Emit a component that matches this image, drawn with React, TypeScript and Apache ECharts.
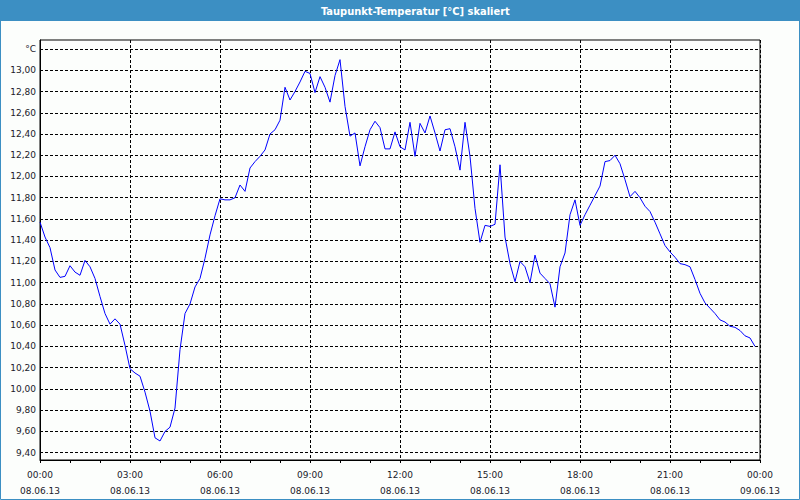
import React, { useEffect, useRef } from "react";
import * as echarts from "echarts";

const TITLE = "Taupunkt-Temperatur [°C] skaliert";
const UNIT_LABEL = "°C";
const DAY_LABELS = ["08.06.13", "09.06.13"];
const STEP_MINUTES = 10;

// Dew point readings every 10 minutes from 08.06.13 00:00
const dewPoint = [
  11.57, 11.43, 11.33, 11.12, 11.05, 11.06, 11.16, 11.10, 11.07, 11.21,
  11.15, 11.04, 10.87, 10.71, 10.61, 10.66, 10.61, 10.41, 10.19, 10.15,
  10.12, 9.97, 9.79, 9.54, 9.51, 9.60, 9.64, 9.82, 10.37, 10.71,
  10.80, 10.96, 11.04, 11.23, 11.45, 11.63, 11.79, 11.78, 11.78, 11.80,
  11.92, 11.86, 12.08, 12.14, 12.19, 12.25, 12.40, 12.44, 12.53, 12.84,
  12.72, 12.80, 12.89, 12.99, 12.97, 12.79, 12.94, 12.84, 12.70, 12.95,
  13.10, 12.66, 12.38, 12.41, 12.10, 12.28, 12.44, 12.52, 12.46, 12.26,
  12.26, 12.42, 12.28, 12.25, 12.51, 12.19, 12.50, 12.41, 12.57, 12.41,
  12.24, 12.44, 12.45, 12.28, 12.06, 12.51, 12.19, 11.70, 11.38, 11.54,
  11.53, 11.55, 12.11, 11.43, 11.18, 11.01, 11.20, 11.15, 11.00, 11.26,
  11.09, 11.04, 10.99, 10.77, 11.15, 11.28, 11.64, 11.78, 11.54, 11.64,
  11.73, 11.82, 11.91, 12.14, 12.15, 12.20, 12.12, 11.97, 11.81, 11.86,
  11.80, 11.72, 11.67, 11.57, 11.46, 11.35, 11.29, 11.24, 11.18, 11.17,
  11.15, 11.03, 10.90, 10.81, 10.76, 10.71, 10.65, 10.63, 10.59, 10.58,
  10.55, 10.50, 10.48, 10.40,
];

const yTicks = [
  9.4, 9.6, 9.8, 10.0, 10.2, 10.4, 10.6, 10.8, 11.0, 11.2,
  11.4, 11.6, 11.8, 12.0, 12.2, 12.4, 12.6, 12.8, 13.0, 13.2,
];
const Y_MIN = 9.331;
const Y_MAX = 13.285;
const X_MIN_HOURS = 0;
const X_MAX_HOURS = 24;
const X_MAJOR_HOURS = 3;

const LABEL_FONT = "'DejaVu Sans', Verdana, sans-serif";
const BLUE = "#3c8fc3";

export default function App() {
  const ref = useRef<HTMLDivElement>(null);

  useEffect(() => {
    if (!ref.current) return;
    const chart = echarts.init(ref.current, undefined, { renderer: "svg" });
    const seriesData = dewPoint.map((v, i) => [(i * STEP_MINUTES) / 60, v]);

    chart.setOption({
      animation: false,
      backgroundColor: "#fcfefc",
      graphic: [
        {
          type: "rect",
          shape: { x: 0, y: 0, width: 800, height: 21 },
          style: { fill: BLUE },
          silent: true,
        },
        {
          type: "rect",
          shape: { x: 0.5, y: 0.5, width: 799, height: 499 },
          style: { fill: null, stroke: BLUE, lineWidth: 1 },
          silent: true,
        },
        {
          type: "text",
          x: 321,
          y: 11,
          style: {
            text: TITLE,
            fill: "#ffffff",
            font: "bold 11px 'DejaVu Sans Condensed', 'Liberation Sans', sans-serif",
            textAlign: "left",
            textVerticalAlign: "middle",
          },
          silent: true,
        },
      ],
      grid: {
        left: 40,
        right: 40,
        top: 40,
        bottom: 40,
        show: true,
        borderColor: "#000",
        borderWidth: 1,
        backgroundColor: "transparent",
      },
      xAxis: {
        type: "value",
        min: X_MIN_HOURS,
        max: X_MAX_HOURS,
        interval: X_MAJOR_HOURS,
        axisLine: { show: true, lineStyle: { color: "#000", width: 1 } },
        axisTick: { show: true, length: 3, lineStyle: { color: "#000" } },
        minorTick: { show: true, splitNumber: 3, length: 3, lineStyle: { color: "#000" } },
        splitLine: { show: true, lineStyle: { color: "#000", type: [3, 2], width: 1 } },
        axisLabel: {
          margin: 7,
          lineHeight: 16,
          fontSize: 9,
          fontFamily: LABEL_FONT,
          color: "#1a1a2a",
          showMinLabel: true,
          showMaxLabel: true,
          formatter: (v: number) => {
            const h = Math.round(v) % 24;
            const hh = (h < 10 ? "0" : "") + h + ":00";
            const day = v >= 24 ? DAY_LABELS[1] : DAY_LABELS[0];
            return hh + "\n" + day;
          },
        },
      },
      yAxis: {
        type: "value",
        min: Y_MIN,
        max: Y_MAX,
        axisLine: { show: true, lineStyle: { color: "#000", width: 1 } },
        axisTick: { show: false, customValues: yTicks },
        splitLine: { show: true, lineStyle: { color: "#000", type: [3, 2], width: 1 } },
        axisLabel: {
          customValues: yTicks,
          margin: 4,
          fontSize: 9,
          fontFamily: LABEL_FONT,
          color: "#1a1a2a",
          formatter: (v: number) =>
            v > 13.1 ? UNIT_LABEL : v.toFixed(2).replace(".", ","),
        },
      },
      series: [
        {
          type: "line",
          data: seriesData,
          showSymbol: false,
          symbol: "none",
          lineStyle: { color: "#0000ff", width: 1 },
          itemStyle: { color: "#0000ff" },
        },
      ],
    });

    return () => chart.dispose();
  }, []);

  return (
    <div
      ref={ref}
      style={{ position: "fixed", left: 0, top: 0, width: 800, height: 500 }}
    />
  );
}
